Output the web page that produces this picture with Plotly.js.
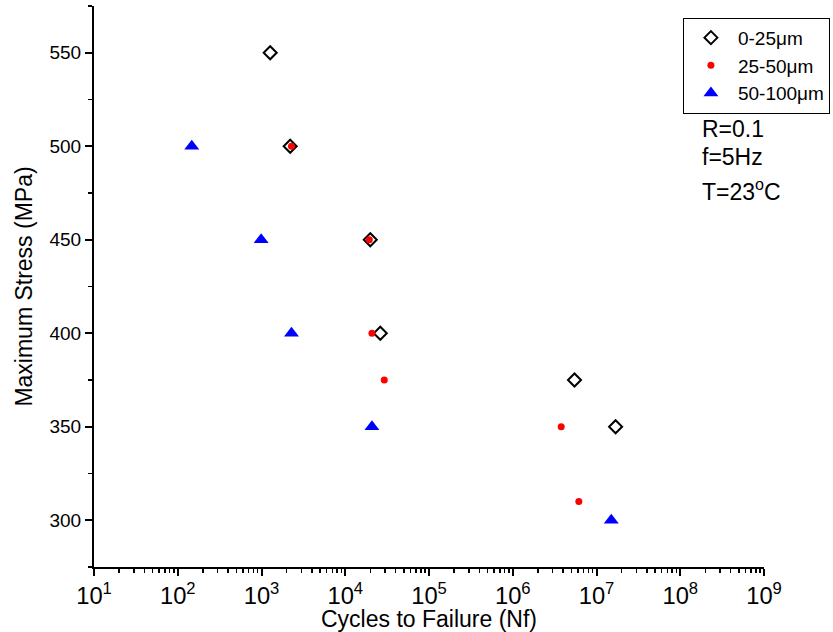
<!DOCTYPE html>
<html>
<head>
<meta charset="utf-8">
<script src="https://cdn.plot.ly/plotly-3.0.1.min.js"></script>
<style>html,body{margin:0;padding:0;background:#fff;}#chart{width:833px;height:632px;}</style>
</head>
<body>
<div id="chart"></div>
<script>
// Series: 0-25 µm
const smallCycles = [1270, 2200, 19900, 26200, 5.46e6, 1.69e7];
const smallStress = [550, 500, 450, 400, 375, 350];
// Series: 25-50 µm
const midCycles = [2280, 19360, 20830, 29240, 3.79e6, 6.15e6];
const midStress = [500, 450, 400, 375, 350, 310];
// Series: 50-100 µm
const largeCycles = [147, 990, 2280, 20830, 1.5e7];
const largeStress = [500, 450, 400, 350, 300];

const seriesNames = ['0-25\u03bcm', '25-50\u03bcm', '50-100\u03bcm'];
const conditions = ['R=0.1', 'f=5Hz', 'T=23<sup>o</sup>C'];
// first log tick label is shown by Plotly as plain "10"; alias it to 10^1
const firstTickAlias = {'10': '10<sup>1</sup>'};

const FONT = 'Arial, "Liberation Sans", sans-serif';

const traces = [
  {x: smallCycles, y: smallStress, name: seriesNames[0], type: 'scatter', mode: 'markers',
   marker: {symbol: 'diamond-open', size: 10, color: '#000', line: {width: 2, color: '#000'}}},
  {x: midCycles, y: midStress, name: seriesNames[1], type: 'scatter', mode: 'markers',
   marker: {symbol: 'circle', size: 7, color: '#ff0000'}},
  {x: largeCycles, y: largeStress, name: seriesNames[2], type: 'scatter', mode: 'markers',
   marker: {symbol: 'triangle-up', size: 13, color: '#0000ff'}}
];

const annYs = [0.781, 0.731, 0.672];
const annotations = conditions.map((t, i) => ({
  text: t, xref: 'paper', yref: 'paper', x: 0.905, y: annYs[i],
  xanchor: 'left', yanchor: 'middle', showarrow: false,
  font: {family: FONT, size: 23, color: '#000'}
}));

const layout = {
  width: 833, height: 632,
  margin: {l: 94, r: 69, t: 6, b: 65, autoexpand: false},
  paper_bgcolor: '#fff', plot_bgcolor: '#fff',
  font: {family: FONT, size: 19, color: '#000'},
  showlegend: true,
  legend: {x: 0.879, y: 0.979, xanchor: 'left', yanchor: 'top',
           bordercolor: '#000', borderwidth: 1, bgcolor: 'rgba(255,255,255,0)',
           itemwidth: 44,
           font: {family: FONT, size: 19, color: '#000'}, tracegroupgap: 0},
  xaxis: {
    type: 'log', range: [1, 9], dtick: 1, exponentformat: 'power',
    labelalias: firstTickAlias,
    showline: true, linecolor: '#000', linewidth: 2, mirror: false,
    ticks: 'outside', ticklen: 7, tickwidth: 2, tickcolor: '#000',
    showgrid: false, zeroline: false,
    tickfont: {family: FONT, size: 19, color: '#000'},
    minor: {ticks: 'outside', ticklen: 4, tickwidth: 1.5, tickcolor: '#000', dtick: 'D1', showgrid: false},
    title: {text: 'Cycles to Failure (Nf)', font: {family: FONT, size: 23, color: '#000'}, standoff: 8}
  },
  yaxis: {
    range: [275, 575], dtick: 50, tick0: 300,
    showline: true, linecolor: '#000', linewidth: 2, mirror: false,
    ticks: 'outside', ticklen: 7, tickwidth: 2, tickcolor: '#000',
    showgrid: false, zeroline: false,
    tickfont: {family: FONT, size: 19, color: '#000'},
    minor: {ticks: 'outside', ticklen: 4, tickwidth: 1.5, tickcolor: '#000', dtick: 25, showgrid: false},
    title: {text: 'Maximum Stress (MPa)', font: {family: FONT, size: 23, color: '#000'}, standoff: 10}
  },
  annotations: annotations
};

Plotly.newPlot('chart', traces, layout, {displayModeBar: false, staticPlot: true});
</script>
</body>
</html>
